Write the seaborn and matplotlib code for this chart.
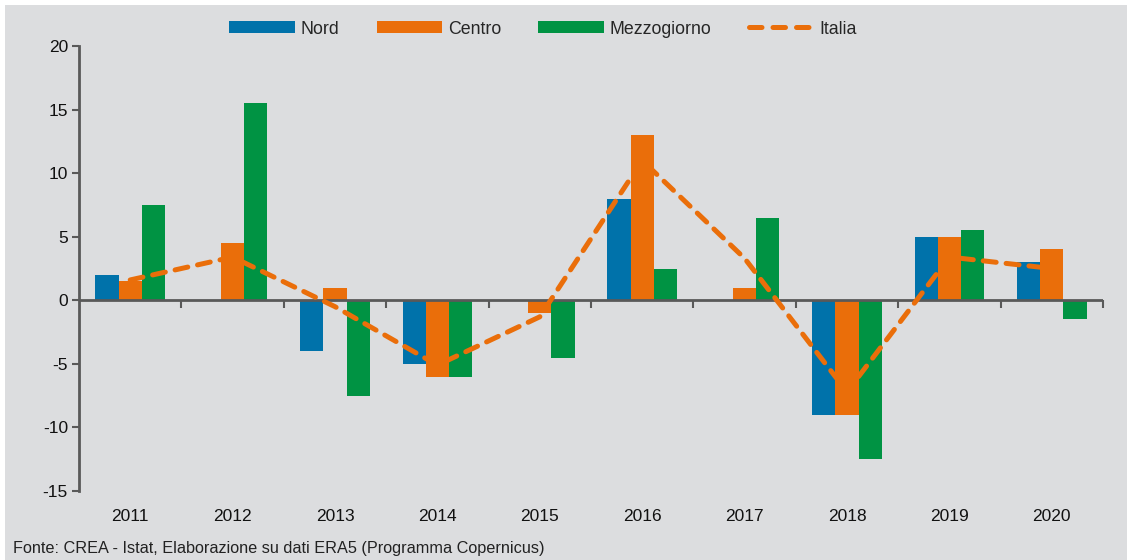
import numpy as np
import pandas as pd
import matplotlib
matplotlib.use("Agg")
import matplotlib.pyplot as plt
from matplotlib.patches import Patch, Rectangle
from matplotlib.lines import Line2D
import seaborn as sns

# Annual values by macro-area (percentage change)
years = ["2011", "2012", "2013", "2014", "2015", "2016", "2017", "2018", "2019", "2020"]
nord = [2.0, 0.0, -4.0, -5.0, 0.0, 8.0, 0.0, -9.0, 5.0, 3.0]
centro = [1.5, 4.5, 1.0, -6.0, -1.0, 13.0, 1.0, -9.0, 5.0, 4.0]
mezzogiorno = [7.5, 15.5, -7.5, -6.0, -4.5, 2.5, 6.5, -12.5, 5.5, -1.5]
italia = [1.6, 3.4, -0.5, -5.1, -1.3, 11.0, 3.3, -7.2, 3.4, 2.5]

areas = ["Nord", "Centro", "Mezzogiorno"]
y_ticks = [-15, -10, -5, 0, 5, 10, 15, 20]
source_note = "Fonte: CREA - Istat, Elaborazione su dati ERA5 (Programma Copernicus)"

BG = "#DCDDDF"
AXIS = "#595959"
palette = {"Nord": "#0072AA", "Centro": "#EA6E0A", "Mezzogiorno": "#009343"}
ITALIA_COLOR = "#EA6E0A"

sns.set_theme(style="white")
plt.rcParams["font.family"] = ["Liberation Sans", "DejaVu Sans"]

bars = pd.DataFrame({
    "anno": np.repeat(years, 3),
    "area": areas * len(years),
    "valore": np.column_stack([nord, centro, mezzogiorno]).ravel(),
})
line = pd.DataFrame({"anno": years, "valore": italia})

fig = plt.figure(figsize=(11.27, 5.6), dpi=100, facecolor=BG)
# thin white margin along the top and left edges
fig.patches.append(Rectangle((0, 1 - 5 / 560), 1, 5 / 560, transform=fig.transFigure,
                             facecolor="white", edgecolor="none", zorder=0))
fig.patches.append(Rectangle((0, 0), 5 / 1127, 1, transform=fig.transFigure,
                             facecolor="white", edgecolor="none", zorder=0))

ax = fig.add_axes([79 / 1127, 1 - 491 / 560, (1103 - 79) / 1127, (491 - 46) / 560])
ax.set_facecolor(BG)

sns.barplot(data=bars, x="anno", y="valore", hue="area", order=years, hue_order=areas,
            palette=palette, width=0.68, saturation=1, errorbar=None, legend=False,
            linewidth=0, ax=ax, zorder=2)

sns.lineplot(data=line, x="anno", y="valore", color=ITALIA_COLOR, lw=3.6,
             sort=False, legend=False, ax=ax, zorder=4)
italia_line = ax.lines[-1]
italia_line.set_dashes((2.6, 2.0))
italia_line.set_dash_capstyle("round")
italia_line.set_solid_capstyle("round")

ax.set_ylim(-15, 20)
ax.set_xlim(-0.5, len(years) - 0.5)
ax.set_yticks(y_ticks)
ax.set_yticklabels([str(t) for t in y_ticks])
ax.set_xlabel("")
ax.set_ylabel("")

for side in ["top", "right", "bottom"]:
    ax.spines[side].set_visible(False)
ax.spines["left"].set_color(AXIS)
ax.spines["left"].set_linewidth(2.0)

ax.tick_params(axis="y", which="both", left=True, length=5, width=1.5, color=AXIS,
               labelsize=12.5, pad=3, labelcolor="#111111")
ax.tick_params(axis="x", which="both", bottom=False, length=0, labelsize=12.5, pad=13,
               labelcolor="#111111")

# zero baseline with downward ticks between categories
ax.axhline(0, color=AXIS, lw=2.0, zorder=3)
boundaries = np.arange(len(years)) + 0.5
ax.plot(boundaries, np.zeros_like(boundaries), linestyle="none", marker=3,
        markersize=6, markeredgewidth=1.5, color=AXIS, zorder=3, clip_on=False)

handles = [Patch(facecolor=palette[a], edgecolor="none") for a in areas]
handles.append(Line2D([], [], color=ITALIA_COLOR, lw=3.6, dashes=(2.5, 2.2),
                      dash_capstyle="round"))
fig.legend(handles, areas + ["Italia"], loc="center", bbox_to_anchor=(0.482, 1 - 29 / 560),
           ncol=4, frameon=False, fontsize=12.8, handlelength=3.7, handleheight=0.65,
           handletextpad=0.3, columnspacing=2.1)

fig.text(13 / 1127, 1 - 549 / 560, source_note, ha="left", va="center", fontsize=11.7,
         color="#222222")

fig.savefig("out.png", dpi=100, facecolor=BG)
